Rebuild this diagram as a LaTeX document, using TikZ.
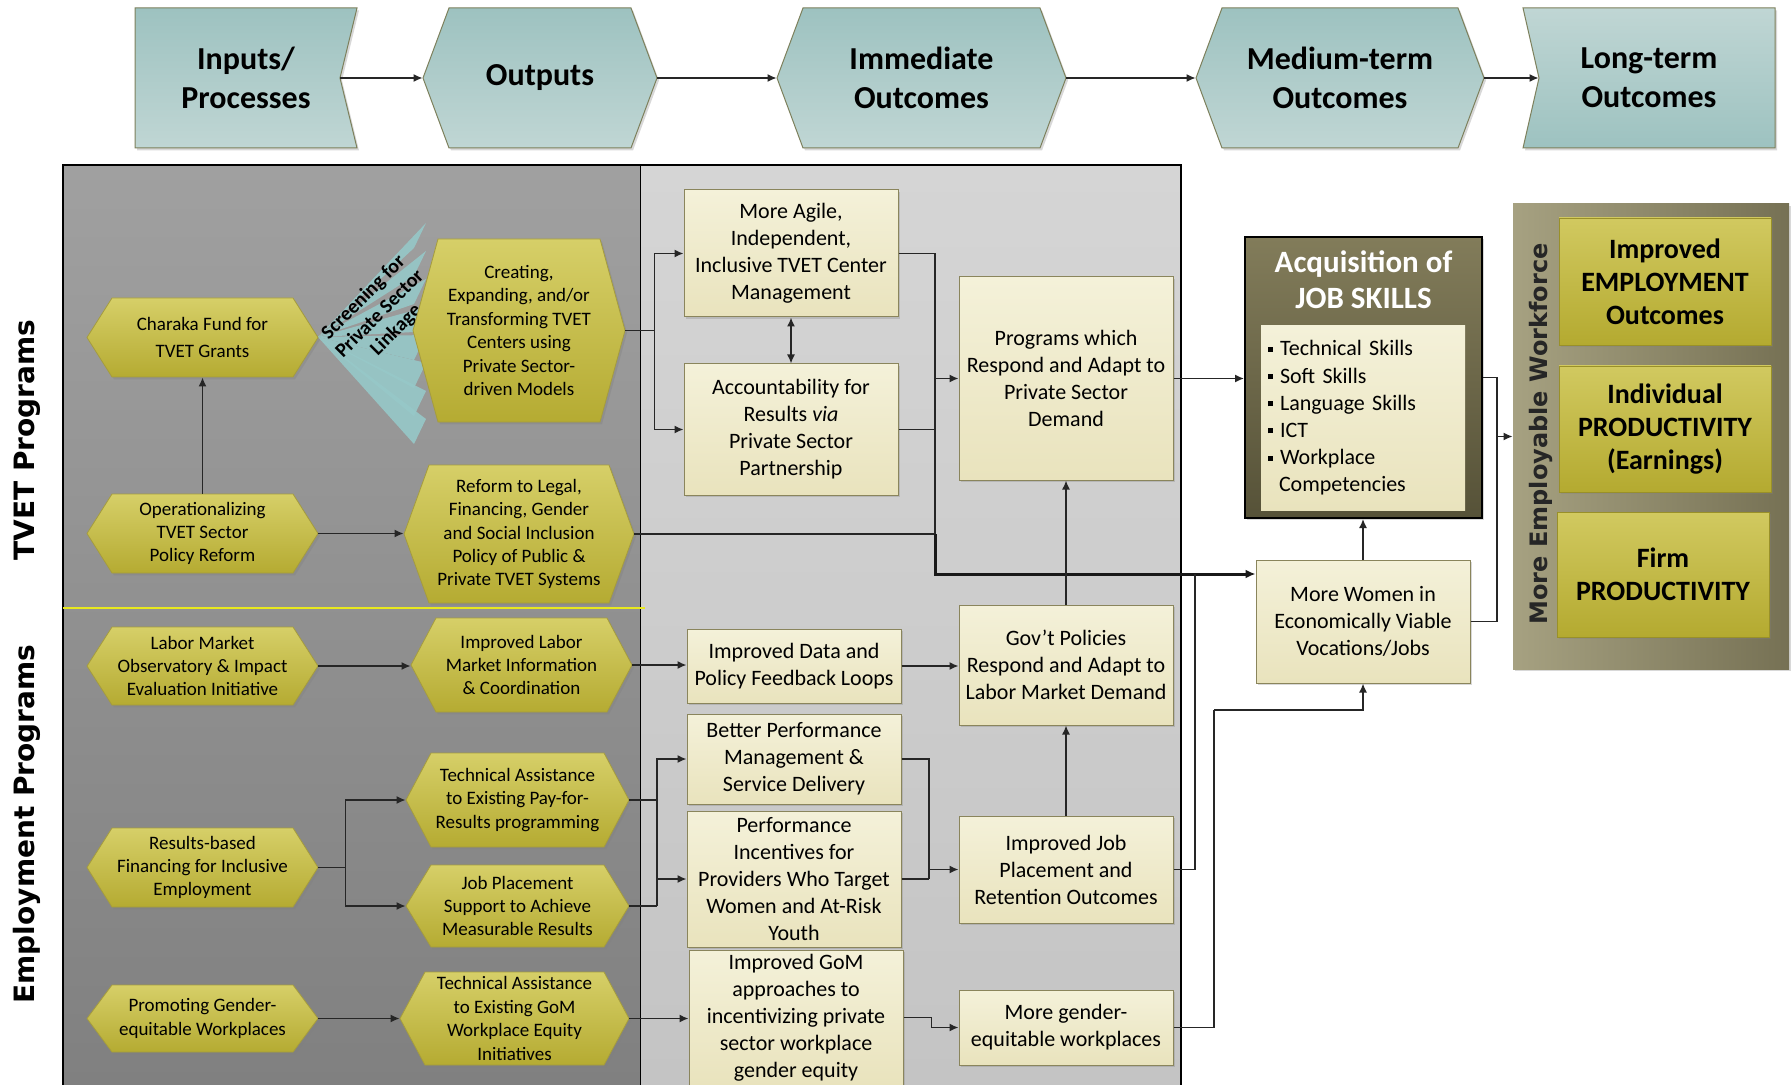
\documentclass[tikz,border=0pt]{standalone}
\usepackage{fontspec}
\setmainfont{Carlito}
\newfontfamily\sidefont{DejaVu Sans}
\usetikzlibrary{arrows.meta,shadows}

\definecolor{headdark}{RGB}{157,194,192}
\definecolor{headlight}{RGB}{192,214,212}
\definecolor{headline}{RGB}{125,128,92}
\definecolor{hextop}{RGB}{214,207,104}
\definecolor{hexbot}{RGB}{181,171,50}
\definecolor{hexline}{RGB}{165,156,62}
\definecolor{boxtop}{RGB}{244,241,217}
\definecolor{boxbot}{RGB}{233,227,189}
\definecolor{boxline}{RGB}{138,133,92}
\definecolor{acqtop}{RGB}{130,124,90}
\definecolor{acqbot}{RGB}{86,82,56}
\definecolor{wfleft}{RGB}{166,161,129}
\definecolor{wfright}{RGB}{118,113,84}
\definecolor{wftop}{RGB}{209,201,96}
\definecolor{wfbot}{RGB}{180,170,48}
\definecolor{darkpanel}{RGB}{160,160,160}
\definecolor{darkpanelbot}{RGB}{128,128,128}
\definecolor{lightpanel}{RGB}{213,213,213}
\definecolor{lightpanelbot}{RGB}{196,196,196}
\definecolor{fanblue}{RGB}{150,200,200}
\definecolor{sepyellow}{RGB}{232,232,30}

\newcommand{\sqbul}{\rule[2pt]{2.5pt}{2.5pt}\hspace{3.5pt}}
% hexagon: name, cx, cy, w, h, text
\newcommand{\hexa}[6]{%
  \shade[hexshape] ({#2-#4/2},#3) -- ({#2-#4/2+25},{#3-#5/2}) -- ({#2+#4/2-25},{#3-#5/2}) -- ({#2+#4/2},#3) -- ({#2+#4/2-25},{#3+#5/2}) -- ({#2-#4/2+25},{#3+#5/2}) -- cycle;
  \node[hextext, minimum width=#4*0.5pt, minimum height=#5*0.5pt] (#1) at (#2,#3) {#6};}

\begin{document}
\begin{tikzpicture}[x=0.5pt, y=-0.5pt,
    hexshape/.style={draw=hexline, line width=0.4pt, top color=hextop, bottom color=hexbot,
      drop shadow={opacity=0.35, shadow xshift=1pt, shadow yshift=-1.2pt}},
    hextext/.style={inner sep=0pt, align=center, font=\fontsize{9.5}{11.7}\selectfont},
    headshape/.style={draw=headline, line width=0.5pt, top color=headdark, bottom color=headlight,
      drop shadow={opacity=0.3, shadow xshift=1pt, shadow yshift=-1.2pt}},
    headtext/.style={inner sep=0pt, minimum height=70pt, align=center, font=\bfseries\fontsize{16}{19.5}\selectfont},
    midbox/.style={draw=boxline, line width=0.5pt, top color=boxtop, bottom color=boxbot, inner sep=0pt,
      minimum width=107pt, align=center, font=\fontsize{11}{13.5}\selectfont,
      drop shadow={opacity=0.3, shadow xshift=1pt, shadow yshift=-1.2pt}},
    acqbox/.style={draw=black, line width=1pt, top color=acqtop, bottom color=acqbot, inner sep=0pt,
      drop shadow={opacity=0.3, shadow xshift=1pt, shadow yshift=-1.2pt}},
    skillbox/.style={top color=boxtop, bottom color=boxbot, inner sep=0pt, align=left,
      font=\fontsize{11}{13.6}\selectfont},
    wfpanel/.style={left color=wfleft, right color=wfright, inner sep=0pt,
      drop shadow={opacity=0.3, shadow xshift=1pt, shadow yshift=-1.2pt}},
    wfbox/.style={top color=wftop, bottom color=wfbot, draw=wfbot!85!black, line width=0.3pt, inner sep=0pt,
      minimum width=106pt, align=center, font=\bfseries\fontsize{14}{16.5}\selectfont,
      drop shadow={opacity=0.3, shadow xshift=1pt, shadow yshift=-1.2pt}},
    sidelabel/.style={rotate=90, font=\sidefont\bfseries\fontsize{14}{16}\selectfont},
    conn/.style={draw=black!85, line width=0.75pt},
    arr/.style={conn, -{Latex[length=4.5pt,width=4pt]}},
    thickarr/.style={draw=black!90, line width=1.5pt, -{Latex[length=5pt,width=4.5pt]}}]
  \useasboundingbox (0,0) rectangle (1792,1085);
  \fill[white] (0,0) rectangle (1792,1085);

  % header row
  \shade[headshape] (135,8) -- (357,8) -- (340,78) -- (357,148) -- (135,148) -- cycle;
  \shade[headshape] (423,78) -- (449,8) -- (631,8) -- (657,78) -- (631,148) -- (449,148) -- cycle;
  \shade[headshape] (777,78) -- (803,8) -- (1040,8) -- (1066,78) -- (1040,148) -- (803,148) -- cycle;
  \shade[headshape] (1196,78) -- (1222,8) -- (1458,8) -- (1484,78) -- (1458,148) -- (1222,148) -- cycle;
  \shade[headshape, top color=headlight, bottom color=headdark] (1523,8) -- (1775,8) -- (1775,148) -- (1523,148) -- (1539,78) -- cycle;
  \node[headtext, minimum width=111pt] (inputs) at (246,78) {Inputs/\\Processes};
  \node[headtext, minimum width=117pt] (outputs) at (540,78) {Outputs};
  \node[headtext, minimum width=144.5pt] (immediate) at (921.5,78) {Immediate\\Outcomes};
  \node[headtext, minimum width=144pt] (medium) at (1340,78) {Medium-term\\Outcomes};
  \node[headtext, minimum width=126pt] (longterm) at (1649,78) {Long-term\\Outcomes};
  \draw[arr] ([xshift=-8.5pt]inputs.east) -- (outputs.west);
  \draw[arr] (outputs.east) -- (immediate.west);
  \draw[arr] (immediate.east) -- (medium.west);
  \draw[arr] (medium.east) -- ([xshift=8pt]longterm.west);

  % panels
  \shade[top color=darkpanel, bottom color=darkpanelbot] (63,165) rectangle (640,1086);
  \shade[top color=lightpanel, bottom color=lightpanelbot] (640,165) rectangle (1181,1086);
  \draw[line width=0.7pt] (63,1086) -- (63,165) -- (1181,165) -- (1181,1086);
  \draw[line width=0.5pt] (640,165) -- (640,1086);
  \draw[sepyellow, line width=1pt] (63,608) -- (645,608);
  \node[sidelabel] (tvetlab) at (27,440) {TVET Programs};
  \node[sidelabel] (emplab) at (27,824) {Employment Programs};

  % screening fan
  \foreach \t in {236,264,...,432}
    \fill[fanblue, opacity=0.9] (318,337) -- (426,{\t-13}) -- (414,{\t+12}) -- cycle;
  \node[rotate=45, align=center, font=\bfseries\fontsize{10}{11.5}\selectfont] (screen) at (380,314) {Screening for\\Private Sector\\Linkage};

  % inputs / outputs
  \hexa{charaka}{202.5}{337.5}{231}{79}{Charaka Fund for\\[1.5pt]TVET Grants}
  \hexa{operat}{202.5}{533.5}{231}{79}{Operationalizing\\TVET Sector\\Policy Reform}
  \hexa{creating}{519}{330.5}{212}{183}{Creating,\\Expanding, and/or\\Transforming TVET\\Centers using\\Private Sector-\\driven Models}
  \hexa{reform}{519}{534}{230}{138}{Reform to Legal,\\Financing, Gender\\and Social Inclusion\\Policy of Public \&\\Private TVET Systems}
  \hexa{labor}{202.5}{666}{231}{78}{Labor Market\\Observatory \& Impact\\Evaluation Initiative}
  \hexa{impinfo}{521.5}{665}{221}{94}{Improved Labor\\Market Information\\\& Coordination}
  \hexa{results}{202.5}{867.5}{231}{79}{Results-based\\Financing for Inclusive\\Employment}
  \hexa{tapay}{517.5}{800}{223}{94}{Technical Assistance\\to Existing Pay-for-\\Results programming}
  \hexa{jobsup}{517.5}{906}{223}{82}{Job Placement\\Support to Achieve\\Measurable Results}
  \hexa{promo}{202.5}{1018.5}{231}{67}{Promoting Gender-\\equitable Workplaces}
  \hexa{tagom}{514.5}{1018.5}{229}{93}{Technical Assistance\\to Existing GoM\\Workplace Equity\\Initiatives}

  % immediate and medium-term outcomes
  \node[midbox, minimum height=63.5pt] (agile) at (791,253.5) {More Agile,\\Independent,\\Inclusive TVET Center\\Management};
  \node[midbox, minimum height=65.5pt] (account) at (791,429.5) {Accountability for\\Results \textit{via}\\Private Sector\\Partnership};
  \node[midbox, minimum height=101.5pt] (programs) at (1066,378.5) {Programs which\\Respond and Adapt to\\Private Sector\\Demand};
  \node[midbox, minimum height=37pt] (impdata) at (794,666) {Improved Data and\\Policy Feedback Loops};
  \node[midbox, minimum height=60pt] (govt) at (1066,665) {Gov’t Policies\\Respond and Adapt to\\Labor Market Demand};
  \node[midbox, minimum height=45pt] (better) at (794,759) {Better Performance\\Management \&\\Service Delivery};
  \node[midbox, minimum height=68pt] (incent) at (794,879) {Performance\\Incentives for\\Providers Who Target\\Women and At-Risk\\Youth};
  \node[midbox, minimum height=53.5pt] (impjob) at (1066,869.5) {Improved Job\\Placement and\\Retention Outcomes};
  \node[midbox, minimum height=67.5pt] (gom) at (796,1017.5) {Improved GoM\\approaches to\\incentivizing private\\sector workplace\\gender equity};
  \node[midbox, minimum height=37.5pt] (moregen) at (1066,1027.5) {More gender-\\equitable workplaces};

  % job skills
  \node[acqbox, minimum width=118.5pt, minimum height=140.5pt] (acq) at (1363.5,377.5) {};
  \node[font=\bfseries\fontsize{15.5}{18}\selectfont, text=white, align=center] (acqtitle) at (1363.5,280) {Acquisition of\\JOB SKILLS};
  \node[skillbox, minimum width=102pt, minimum height=92pt, text width=95pt] (skills) at (1363,418)
    {\sqbul Technical Skills\\ \sqbul Soft Skills\\ \sqbul Language Skills\\ \sqbul ICT\\ \sqbul Workplace\\ \hspace*{5.5pt}Competencies};
  \node[midbox, minimum height=61.5pt] (women) at (1363,621.5) {More Women in\\Economically Viable\\Vocations/Jobs};

  % long-term outcomes
  \node[wfpanel, minimum width=138pt, minimum height=232.5pt] (wf) at (1651,436.5) {};
  \node[rotate=90, font=\sidefont\bfseries\fontsize{12}{14}\selectfont, text=black!85] (wflab) at (1541,434) {More Employable Workforce};
  \node[wfbox, minimum height=63.5pt] (employ) at (1665,281.5) {Improved\\EMPLOYMENT\\Outcomes};
  \node[wfbox, minimum height=63pt] (indiv) at (1665,429) {Individual\\PRODUCTIVITY\\(Earnings)};
  \node[wfbox, minimum height=62.5pt] (firm) at (1663,574.5) {Firm\\PRODUCTIVITY};

  % connectors, TVET
  \draw[arr] (operat.north) -- (charaka.south);
  \draw[arr] (operat.east) -- (operat.east -| reform.west);
  \draw[conn] (creating.east) -- ++(29,0) coordinate (cbr);
  \draw[arr] (cbr) |- (agile.west);
  \draw[arr] (cbr) |- (account.west);
  \draw[conn, {Latex[length=4.5pt,width=4pt]}-{Latex[length=4.5pt,width=4pt]}] (agile.south) -- (account.north);
  \coordinate (tv) at (935,574);
  \draw[conn] (agile.east) -| (tv);
  \draw[conn] (account.east) -- (account.east -| tv);
  \draw[conn] (reform.east) -- (reform.east -| tv);
  \draw[arr] (programs.west -| tv) -- (programs.west);
  \draw[thickarr] (reform.east -| tv) -- (tv) -- (tv -| women.west);
  \draw[arr] (programs.east) -- (programs.east -| acq.west);
  \draw[arr] (govt.north) -- (programs.south);
  \draw[arr] (impjob.north) -- (govt.south);

  % connectors, employment
  \draw[arr] (labor.east) -- (labor.east -| impinfo.west);
  \draw[arr] (impinfo.east) -- (impinfo.east -| impdata.west);
  \draw[arr] (impdata.east) -- (impdata.east -| govt.west);
  \draw[conn] (results.east) -- ++(27,0) coordinate (rbr);
  \draw[arr] (rbr) |- (tapay.west);
  \draw[arr] (rbr) |- (jobsup.west);
  \coordinate (ebr) at (657,906);
  \draw[conn] (tapay.east) -- (tapay.east -| ebr);
  \draw[conn] (jobsup.east) -- (ebr);
  \draw[arr] (ebr) |- (better.west);
  \draw[arr] (ebr |- incent.west) -- (incent.west);
  \coordinate (pbr) at (929,879);
  \draw[conn] (better.east) -| (pbr);
  \draw[conn] (incent.east) -- (pbr);
  \draw[arr] (pbr |- impjob.west) -- (impjob.west);
  \draw[arr] (promo.east) -- (promo.east -| tagom.west);
  \draw[arr] (tagom.east) -- (tagom.east -| gom.west);
  \draw[arr] (gom.east) -- ++(28,0) |- (moregen.west);
  \coordinate (jn) at (1195,574);
  \draw[conn] (impjob.east) -| (jn);
  \coordinate (gw) at (1214,710);
  \draw[conn] (moregen.east) -| (gw);
  \draw[arr] (gw) -| (women.south);

  % connectors, right
  \draw[arr] (women.north) -- (women.north |- acq.south);
  \coordinate (wbr) at (1497,436.5);
  \draw[conn] (acq.east) -| (wbr);
  \draw[conn] (women.east) -| (wbr);
  \draw[arr] (wbr) -- (wf.west);
\end{tikzpicture}
\end{document}
